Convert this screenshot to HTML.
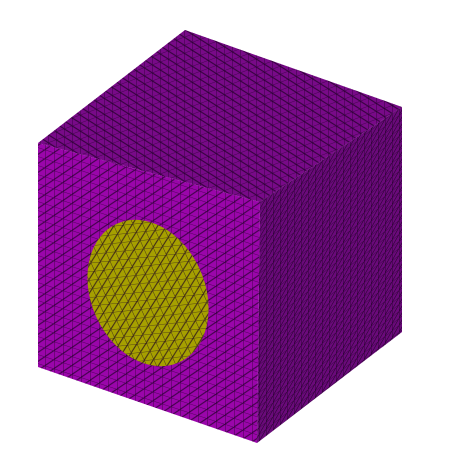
<!DOCTYPE html>
<html><head><meta charset="utf-8"><style>html,body{margin:0;padding:0;background:#fff;}svg{display:block}</style></head>
<body>
<svg width="463" height="455" viewBox="0 0 463 455">
<defs>
<pattern id="meshTop" width="8" height="8" patternUnits="userSpaceOnUse" patternTransform="skewY(-20)">
<path d="M0 0H8M0 0V8M0 0L8 8" stroke="#1a0020" stroke-width="0.8" fill="none" opacity="0.8"/>
</pattern>
<pattern id="meshRight" width="7" height="7" patternUnits="userSpaceOnUse" patternTransform="skewY(-38)">
<path d="M0 0H7M0 0V7M0 7L7 0" stroke="#1a0020" stroke-width="0.8" fill="none" opacity="0.8"/>
</pattern>
<pattern id="meshLeft" width="9" height="9" patternUnits="userSpaceOnUse" patternTransform="skewY(18)">
<path d="M0 0H9M0 0V9M0 9L9 0" stroke="#1a0020" stroke-width="0.8" fill="none" opacity="0.8"/>
</pattern>
</defs>
<g>
<polygon points="185,30 402,107 260,202 38,143" fill="#780a88"/>
<polygon points="185,30 402,107 260,202 38,143" fill="url(#meshTop)"/>
</g>
<g>
<polygon points="260,202 402,107 402,332 257,443" fill="#6a0a7a"/>
<polygon points="260,202 402,107 402,332 257,443" fill="url(#meshRight)"/>
</g>
<g>
<polygon points="38,143 260,202 257,443 38,367" fill="#9a06aa"/>
<polygon points="38,143 260,202 257,443 38,367" fill="url(#meshLeft)"/>
</g>
<g>
<ellipse cx="148" cy="293" rx="57" ry="76" transform="rotate(-24 148 293)" fill="#a6a000"/>
<ellipse cx="148" cy="293" rx="57" ry="76" transform="rotate(-24 148 293)" fill="url(#meshLeft)"/>
</g>
</svg>
</body></html>
